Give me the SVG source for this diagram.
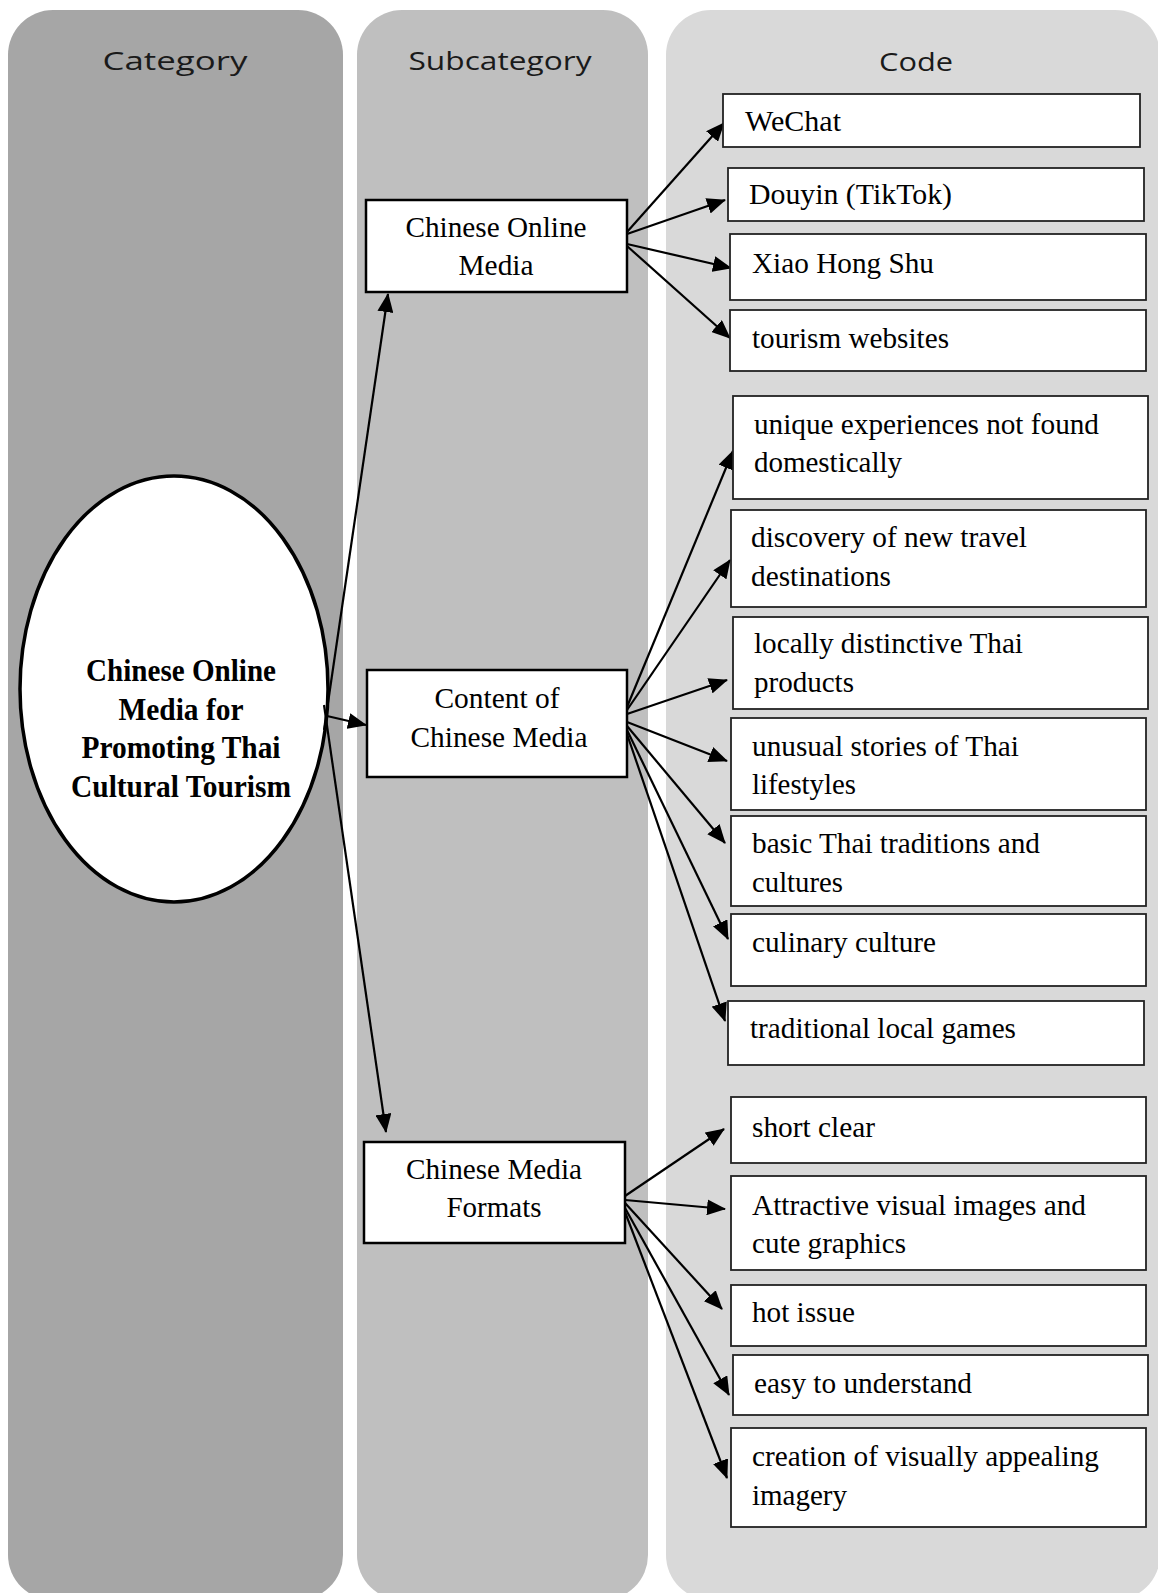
<svg xmlns="http://www.w3.org/2000/svg" width="1158" height="1593" viewBox="0 0 1158 1593">
<style>
.col-hdr{font-family:"Open Sans","DejaVu Sans",sans-serif;font-size:26px;fill:#1a1a1a;text-anchor:middle}
.box{fill:#fff;stroke:#000;stroke-width:2.5}
.cbox{fill:#fff;stroke:#222;stroke-width:1.8}
.t{font-family:"Liberation Serif","Times New Roman",serif;font-size:30px;fill:#000}
.tc{font-family:"Liberation Serif","Times New Roman",serif;font-size:30px;fill:#000;text-anchor:middle}
.tb{font-family:"Liberation Serif","Times New Roman",serif;font-size:32px;font-weight:bold;fill:#000;text-anchor:middle}
.conn line{stroke:#000;stroke-width:2.2;marker-end:url(#ah)}
</style>
<defs>
<marker id="ah" markerUnits="userSpaceOnUse" markerWidth="19" markerHeight="16" refX="18" refY="8" orient="auto">
<path d="M0,0 L19,8 L0,16 z" fill="#000"/>
</marker>
</defs>
<rect width="1158" height="1593" fill="#fff"/>
<g id="columns">
<rect x="8" y="10" width="335" height="1590" rx="45" fill="#a6a6a6"/>
<rect x="357" y="10" width="291" height="1590" rx="45" fill="#bfbfbf"/>
<rect x="666" y="10" width="494" height="1590" rx="45" fill="#d9d9d9"/>
<text class="col-hdr" x="175" y="70" textLength="145" lengthAdjust="spacingAndGlyphs">Category</text>
<text class="col-hdr" x="500" y="70" textLength="183" lengthAdjust="spacingAndGlyphs">Subcategory</text>
<text class="col-hdr" x="916" y="71" textLength="74" lengthAdjust="spacingAndGlyphs">Code</text>
</g>
<g id="category">
<ellipse cx="174" cy="689" rx="154" ry="213" fill="#fff" stroke="#000" stroke-width="3.5"/>
<text class="tb" x="181" y="681" textLength="190" lengthAdjust="spacingAndGlyphs">Chinese Online</text>
<text class="tb" x="181" y="720" textLength="125" lengthAdjust="spacingAndGlyphs">Media for</text>
<text class="tb" x="181" y="758" textLength="199" lengthAdjust="spacingAndGlyphs">Promoting Thai</text>
<text class="tb" x="181" y="797" textLength="220" lengthAdjust="spacingAndGlyphs">Cultural Tourism</text>
</g>
<g class="conn" id="connectors">
<line x1="324" y1="730" x2="388" y2="294"/>
<line x1="327" y1="716" x2="366" y2="725"/>
<line x1="324" y1="705" x2="386" y2="1132"/>
<line x1="627" y1="232" x2="724" y2="123"/>
<line x1="627" y1="234" x2="725" y2="200"/>
<line x1="627" y1="244" x2="731" y2="268"/>
<line x1="627" y1="246" x2="730" y2="338"/>
<line x1="627" y1="707" x2="733" y2="451"/>
<line x1="627" y1="710" x2="730" y2="560"/>
<line x1="627" y1="714" x2="727" y2="680"/>
<line x1="627" y1="722" x2="727" y2="761"/>
<line x1="627" y1="726" x2="725" y2="843"/>
<line x1="627" y1="730" x2="728" y2="939"/>
<line x1="627" y1="734" x2="725" y2="1021"/>
<line x1="625" y1="1196" x2="724" y2="1129"/>
<line x1="625" y1="1200" x2="725" y2="1209"/>
<line x1="625" y1="1203" x2="722" y2="1309"/>
<line x1="625" y1="1208" x2="729" y2="1395"/>
<line x1="625" y1="1212" x2="727" y2="1478"/>
</g>
<g id="sub-online-media">
<rect class="box" x="366" y="200" width="261" height="92"/>
<text class="tc" x="496" y="237" textLength="181" lengthAdjust="spacingAndGlyphs">Chinese Online</text>
<text class="tc" x="496" y="275" textLength="75" lengthAdjust="spacingAndGlyphs">Media</text>
</g>
<g id="sub-content">
<rect class="box" x="367" y="670" width="260" height="107"/>
<text class="tc" x="497" y="708" textLength="125" lengthAdjust="spacingAndGlyphs">Content of</text>
<text class="tc" x="499" y="747" textLength="177" lengthAdjust="spacingAndGlyphs">Chinese Media</text>
</g>
<g id="sub-formats">
<rect class="box" x="364" y="1142" width="261" height="101"/>
<text class="tc" x="494" y="1179" textLength="176" lengthAdjust="spacingAndGlyphs">Chinese Media</text>
<text class="tc" x="494" y="1217" textLength="95" lengthAdjust="spacingAndGlyphs">Formats</text>
</g>
<g id="code-wechat">
<rect class="cbox" x="723" y="94" width="417" height="53"/>
<text class="t" x="745" y="131" textLength="96" lengthAdjust="spacingAndGlyphs">WeChat</text>
</g>
<g id="code-douyin">
<rect class="cbox" x="728" y="168" width="416" height="53"/>
<text class="t" x="749" y="204" textLength="203" lengthAdjust="spacingAndGlyphs">Douyin (TikTok)</text>
</g>
<g id="code-xiaohongshu">
<rect class="cbox" x="730" y="234" width="416" height="66"/>
<text class="t" x="752" y="273" textLength="182" lengthAdjust="spacingAndGlyphs">Xiao Hong Shu</text>
</g>
<g id="code-tourism-websites">
<rect class="cbox" x="730" y="310" width="416" height="61"/>
<text class="t" x="752" y="348" textLength="197" lengthAdjust="spacingAndGlyphs">tourism websites</text>
</g>
<g id="code-unique">
<rect class="cbox" x="733" y="396" width="415" height="103"/>
<text class="t" x="754" y="434" textLength="345" lengthAdjust="spacingAndGlyphs">unique experiences not found</text>
<text class="t" x="754" y="472" textLength="148" lengthAdjust="spacingAndGlyphs">domestically</text>
</g>
<g id="code-discovery">
<rect class="cbox" x="731" y="510" width="415" height="97"/>
<text class="t" x="751" y="547" textLength="276" lengthAdjust="spacingAndGlyphs">discovery of new travel</text>
<text class="t" x="751" y="586" textLength="140" lengthAdjust="spacingAndGlyphs">destinations</text>
</g>
<g id="code-locally">
<rect class="cbox" x="733" y="617" width="415" height="92"/>
<text class="t" x="754" y="653" textLength="269" lengthAdjust="spacingAndGlyphs">locally distinctive Thai</text>
<text class="t" x="754" y="692" textLength="100" lengthAdjust="spacingAndGlyphs">products</text>
</g>
<g id="code-unusual">
<rect class="cbox" x="731" y="718" width="415" height="92"/>
<text class="t" x="752" y="756" textLength="267" lengthAdjust="spacingAndGlyphs">unusual stories of Thai</text>
<text class="t" x="752" y="794" textLength="104" lengthAdjust="spacingAndGlyphs">lifestyles</text>
</g>
<g id="code-basic">
<rect class="cbox" x="731" y="816" width="415" height="90"/>
<text class="t" x="752" y="853" textLength="288" lengthAdjust="spacingAndGlyphs">basic Thai traditions and</text>
<text class="t" x="752" y="892" textLength="91" lengthAdjust="spacingAndGlyphs">cultures</text>
</g>
<g id="code-culinary">
<rect class="cbox" x="731" y="914" width="415" height="72"/>
<text class="t" x="752" y="952" textLength="184" lengthAdjust="spacingAndGlyphs">culinary culture</text>
</g>
<g id="code-games">
<rect class="cbox" x="728" y="1001" width="416" height="64"/>
<text class="t" x="750" y="1038" textLength="266" lengthAdjust="spacingAndGlyphs">traditional local games</text>
</g>
<g id="code-short">
<rect class="cbox" x="731" y="1097" width="415" height="66"/>
<text class="t" x="752" y="1137" textLength="123" lengthAdjust="spacingAndGlyphs">short clear</text>
</g>
<g id="code-attractive">
<rect class="cbox" x="731" y="1176" width="415" height="94"/>
<text class="t" x="752" y="1215" textLength="334" lengthAdjust="spacingAndGlyphs">Attractive visual images and</text>
<text class="t" x="752" y="1253" textLength="154" lengthAdjust="spacingAndGlyphs">cute graphics</text>
</g>
<g id="code-hot">
<rect class="cbox" x="731" y="1285" width="415" height="61"/>
<text class="t" x="752" y="1322" textLength="103" lengthAdjust="spacingAndGlyphs">hot issue</text>
</g>
<g id="code-easy">
<rect class="cbox" x="733" y="1355" width="415" height="60"/>
<text class="t" x="754" y="1393" textLength="218" lengthAdjust="spacingAndGlyphs">easy to understand</text>
</g>
<g id="code-creation">
<rect class="cbox" x="731" y="1428" width="415" height="99"/>
<text class="t" x="752" y="1466" textLength="347" lengthAdjust="spacingAndGlyphs">creation of visually appealing</text>
<text class="t" x="752" y="1505" textLength="95" lengthAdjust="spacingAndGlyphs">imagery</text>
</g>
</svg>
